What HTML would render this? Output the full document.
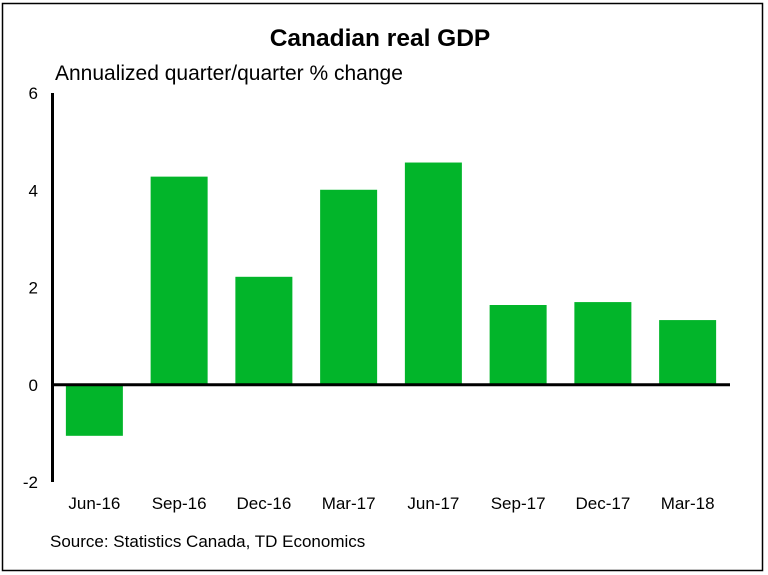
<!DOCTYPE html>
<html><head><meta charset="utf-8"><style>
body{margin:0;background:#fff;}
svg{display:block;font-family:"Liberation Sans",Arial,sans-serif;}
</style></head><body>
<svg id="chart" width="768" height="575" viewBox="0 0 768 575">
<rect x="2.5" y="3.5" width="760" height="567" fill="#fff" stroke="#000" stroke-width="1.5"/>
<text x="380" y="46" text-anchor="middle" font-size="24.5" font-weight="bold">Canadian real GDP</text>
<text x="55" y="80" font-size="21">Annualized quarter/quarter % change</text>
<g id="bars"></g>
<g id="yticks"></g>
<g id="xlabels"></g>
<line id="zero" x1="52" x2="730" stroke="#000" stroke-width="3"/>
<line x1="52.5" x2="52.5" y1="93" y2="482" stroke="#000" stroke-width="3"/>
<text x="50" y="547" font-size="17">Source: Statistics Canada, TD Economics</text>
</svg>
<script>
const categories=["Jun-16","Sep-16","Dec-16","Mar-17","Jun-17","Sep-17","Dec-17","Mar-18"];
const values=[-1.05,4.28,2.22,4.01,4.57,1.64,1.70,1.33];
const yTicks=[6,4,2,0,-2];
const NS="http://www.w3.org/2000/svg";
const yMin=-2,yMax=6,plotTop=93,plotBot=482;
const yS=v=>plotBot-(v-yMin)/(yMax-yMin)*(plotBot-plotTop);
const plotLeft=52,plotRight=730,band=(plotRight-plotLeft)/categories.length,bw=57;
const xS=i=>plotLeft+i*band+(band-bw)/2;
const barsG=document.getElementById('bars');
values.forEach((v,i)=>{
 const r=document.createElementNS(NS,'rect');
 
 
 r.setAttribute('x',xS(i));r.setAttribute('width',bw);
 r.setAttribute('y',Math.min(yS(v),yS(0)));r.setAttribute('height',Math.abs(yS(v)-yS(0)));
 r.setAttribute('fill','#02b52a');
 barsG.appendChild(r);
 const t=document.createElementNS(NS,'text');
 
 
 t.setAttribute('x',xS(i)+bw/2);t.setAttribute('y',509);
 t.setAttribute('text-anchor','middle');t.setAttribute('font-size','17');
 t.textContent=categories[i];
 document.getElementById('xlabels').appendChild(t);
});
yTicks.forEach(v=>{
 const t=document.createElementNS(NS,'text');
 
 
 t.setAttribute('x',38);t.setAttribute('y',yS(v)+6);
 t.setAttribute('text-anchor','end');t.setAttribute('font-size','17');
 t.textContent=v;
 document.getElementById('yticks').appendChild(t);
});
const z=document.getElementById('zero');z.setAttribute('y1',yS(0));z.setAttribute('y2',yS(0));
</script>
</body></html>
